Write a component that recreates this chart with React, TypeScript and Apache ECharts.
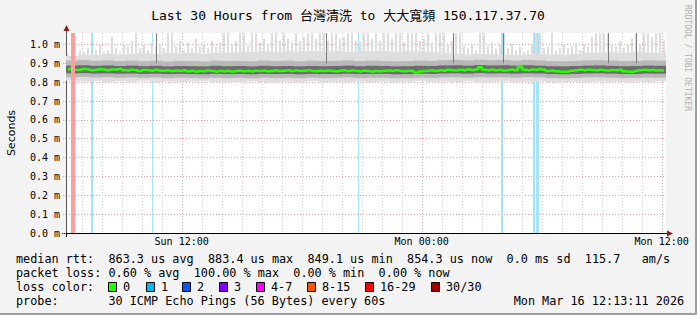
import React, { useEffect, useRef } from "react";
import * as echarts from "echarts";

const W = 697;
const H = 315;
const MONO = "'DejaVu Sans Mono', 'Noto Sans CJK TC', monospace";
const SANS = "'DejaVu Sans', sans-serif";

// time axis in hours since Sun 00:00
const START_H = 6 + 13 / 60;
const SPAN_H = 30;
const END_H = START_H + SPAN_H;
const Y_MAX = 1.061; // ms
const Y_TOP_LABEL = 1.0;

const titleText = "Last 30 Hours from 台灣清洗 to 大大寬頻 150.117.37.70";
const yAxisTitle = "Seconds";
const watermark = "RRDTOOL / TOBI OETIKER";

const xLabelHours = [12, 24, 36];
const xLabelTexts = ["Sun 12:00", "Mon 00:00", "Mon 12:00"];
const gridHours = [7, 8, 9, 10, 11, 12, 13, 14, 15, 16, 17, 18, 19, 20, 21, 22, 23, 24, 25, 26, 27, 28, 29, 30, 31, 32, 33, 34, 35, 36];
const majorGridHours = [12, 24, 36];

// median rtt (ms), 150 samples of 12 minutes
const MED_STEP = 0.2;
const medianRtt = [
  0.868, 0.872, 0.865, 0.866, 0.870, 0.868, 0.864, 0.866, 0.869, 0.867, 0.863, 0.868, 0.866, 0.870, 0.864,
  0.862, 0.866, 0.864, 0.860, 0.865, 0.863, 0.861, 0.866, 0.862, 0.860, 0.864, 0.859, 0.862, 0.860, 0.863,
  0.858, 0.861, 0.857, 0.860, 0.858, 0.862, 0.859, 0.856, 0.860, 0.858, 0.861, 0.857, 0.859, 0.862, 0.858,
  0.860, 0.857, 0.861, 0.859, 0.862, 0.858, 0.860, 0.863, 0.859, 0.861, 0.864, 0.860, 0.862, 0.859, 0.861,
  0.863, 0.860, 0.858, 0.861, 0.859, 0.862, 0.860, 0.858, 0.861, 0.863, 0.859, 0.862, 0.860, 0.857, 0.861,
  0.859, 0.856, 0.860, 0.858, 0.861, 0.862, 0.859, 0.863, 0.860, 0.858, 0.861, 0.859, 0.852, 0.857, 0.860,
  0.861, 0.864, 0.860, 0.863, 0.861, 0.866, 0.864, 0.862, 0.866, 0.863, 0.867, 0.864, 0.868, 0.879, 0.866,
  0.864, 0.867, 0.863, 0.866, 0.862, 0.865, 0.868, 0.864, 0.882, 0.866, 0.864, 0.867, 0.865, 0.870, 0.866,
  0.860, 0.862, 0.858, 0.856, 0.855, 0.857, 0.861, 0.863, 0.866, 0.864, 0.867, 0.865, 0.863, 0.866, 0.864,
  0.862, 0.865, 0.863, 0.866, 0.858, 0.856, 0.855, 0.860, 0.864, 0.866, 0.863, 0.865, 0.862, 0.864, 0.861,
];

// highest ping per 12-minute column (ms)
const TOP_STEP = 0.2;
const smokeTop = [
  0.95, 0.96, 0.94, 0.97, 0.96, 0.98, 0.95, 0.97, 1.00, 0.96,
  0.97, 1.04, 0.98, 0.96, 1.00, 0.99, 1.02, 1.06, 0.98, 1.00,
  0.97, 1.01, 0.99, 1.00, 0.98, 1.06, 1.06, 0.99, 1.02, 0.97,
  1.01, 0.98, 1.03, 0.99, 1.00, 0.98, 1.02, 0.99, 1.01, 1.06,
  1.06, 1.00, 1.02, 1.06, 1.06, 0.99, 1.06, 1.06, 1.01, 1.03,
  1.00, 1.06, 1.06, 1.02, 1.06, 1.03, 1.01, 1.06, 1.02, 1.04,
  1.06, 1.06, 1.03, 1.06, 1.06, 1.02, 1.06, 1.06, 1.03, 1.04,
  1.06, 1.06, 1.02, 1.01, 1.06, 1.06, 1.03, 1.06, 1.02, 1.06,
  1.06, 1.03, 1.06, 1.06, 1.01, 1.06, 1.06, 1.06, 1.02, 1.03,
  1.06, 1.01, 1.06, 1.06, 1.06, 1.00, 1.02, 1.06, 1.06, 0.99,
  0.98, 1.00, 0.97, 1.06, 1.06, 0.99, 1.01, 0.98, 1.00, 1.06,
  0.98, 1.00, 0.97, 0.99, 0.96, 0.97, 1.00, 1.06, 1.06, 0.98,
  0.99, 1.06, 0.97, 0.98, 1.00, 0.98, 0.99, 1.01, 0.97, 1.00,
  0.99, 1.04, 1.06, 1.06, 1.06, 1.06, 1.00, 0.99, 1.02, 0.98,
  1.00, 1.03, 1.06, 1.00, 1.06, 1.06, 1.04, 1.06, 1.06, 1.02,
];

// smoke percentiles per 36-minute column (ms)
const CORE_STEP = 0.6;
const smokeBottom = [
  0.808, 0.803, 0.806, 0.800, 0.805, 0.802, 0.807, 0.801, 0.804, 0.799,
  0.803, 0.806, 0.800, 0.802, 0.798, 0.804, 0.801, 0.799, 0.803, 0.800,
  0.805, 0.798, 0.802, 0.800, 0.804, 0.801, 0.803, 0.799, 0.802, 0.806,
  0.800, 0.803, 0.801, 0.805, 0.799, 0.802, 0.804, 0.800, 0.803, 0.806,
  0.801, 0.799, 0.803, 0.800, 0.804, 0.802, 0.799, 0.803, 0.801, 0.805,
];
const smokeP10 = [
  0.826, 0.828, 0.825, 0.827, 0.824, 0.826, 0.823, 0.825, 0.822, 0.824,
  0.823, 0.821, 0.824, 0.822, 0.823, 0.821, 0.824, 0.822, 0.823, 0.821,
  0.824, 0.822, 0.823, 0.825, 0.822, 0.824, 0.823, 0.821, 0.822, 0.824,
  0.823, 0.825, 0.826, 0.824, 0.827, 0.825, 0.826, 0.824, 0.827, 0.825,
  0.822, 0.821, 0.823, 0.825, 0.826, 0.824, 0.822, 0.823, 0.825, 0.824,
];
const smokeP25 = [
  0.847, 0.848, 0.846, 0.847, 0.845, 0.846, 0.844, 0.845, 0.843, 0.844,
  0.843, 0.842, 0.844, 0.843, 0.843, 0.842, 0.844, 0.843, 0.844, 0.842,
  0.844, 0.843, 0.843, 0.845, 0.843, 0.844, 0.844, 0.842, 0.843, 0.845,
  0.844, 0.846, 0.847, 0.845, 0.848, 0.846, 0.847, 0.845, 0.847, 0.846,
  0.843, 0.842, 0.844, 0.846, 0.847, 0.845, 0.843, 0.844, 0.846, 0.845,
];
const smokeP75 = [
  0.888, 0.890, 0.887, 0.889, 0.886, 0.888, 0.885, 0.887, 0.884, 0.886,
  0.885, 0.884, 0.887, 0.885, 0.886, 0.884, 0.887, 0.885, 0.886, 0.884,
  0.886, 0.885, 0.886, 0.888, 0.885, 0.887, 0.886, 0.884, 0.885, 0.887,
  0.886, 0.889, 0.890, 0.888, 0.891, 0.889, 0.890, 0.888, 0.890, 0.888,
  0.885, 0.884, 0.886, 0.888, 0.889, 0.887, 0.885, 0.886, 0.888, 0.887,
];
const smokeP90 = [
  0.915, 0.918, 0.913, 0.916, 0.912, 0.915, 0.911, 0.914, 0.910, 0.913,
  0.912, 0.910, 0.914, 0.912, 0.913, 0.911, 0.915, 0.912, 0.914, 0.911,
  0.914, 0.912, 0.913, 0.916, 0.912, 0.915, 0.913, 0.911, 0.912, 0.915,
  0.913, 0.917, 0.918, 0.916, 0.919, 0.917, 0.918, 0.915, 0.918, 0.916,
  0.912, 0.911, 0.913, 0.916, 0.917, 0.915, 0.912, 0.913, 0.916, 0.915,
];
const smokeP95 = [
  0.940, 0.946, 0.944, 0.950, 0.948, 0.952, 0.955, 0.950, 0.958, 0.954,
  0.956, 0.952, 0.958, 0.955, 0.960, 0.962, 0.965, 0.960, 0.966, 0.963,
  0.968, 0.964, 0.966, 0.962, 0.967, 0.965, 0.968, 0.963, 0.966, 0.964,
  0.960, 0.955, 0.950, 0.948, 0.952, 0.950, 0.946, 0.944, 0.948, 0.952,
  0.948, 0.945, 0.950, 0.955, 0.958, 0.960, 0.956, 0.962, 0.958, 0.955,
];

// single dark outliers (hours, top ms)
const darkSpikeHours = [10.72, 19.22, 25.57, 28.07, 33.32, 34.72];
const darkSpikeTop = [1.06, 1.06, 1.06, 1.06, 1.06, 1.06];

// packet loss events (start hour, end hour, lost pings of 30)
const lossStart = [6.467, 7.467, 10.517, 20.8, 27.967, 29.58, 29.73];
const lossEnd = [6.667, 7.567, 10.567, 20.88, 28.05, 29.68, 29.87];
const lossCount = [30, 1, 1, 1, 1, 1, 1];

const lossLegendLabels = ["0", "1", "2", "3", "4-7", "8-15", "16-29", "30/30"];
const lossLegendColors = ["#26ff00", "#00b8ff", "#0059ff", "#7e00ff", "#ff00ff", "#ff5500", "#ff0000", "#a00000"];
const lossLegendBoxX = [108, 146, 182, 219, 256, 307, 365, 431];

const statLine1: [number, string][] = [
  [0, "median rtt:"], [13, "863.3 us avg"], [27, "883.4 us max"], [41, "849.1 us min"],
  [55, "854.3 us now"], [69, "0.0 ms sd"], [80, "115.7"], [88, "am/s"],
];
const statLine2: [number, string][] = [
  [0, "packet loss:"], [13, "0.60 % avg"], [25, "100.00 % max"], [39, "0.00 % min"], [51, "0.00 % now"],
];
const statLine3: [number, string][] = [[0, "loss color:"]];
const statLine4: [number, string][] = [
  [0, "probe:"], [13, "30 ICMP Echo Pings (56 Bytes) every 60s"], [70, "Mon Mar 16 12:13:11 2026"],
];

const CH = 7.11;
const TX0 = 16;

function lossBandColor(n: number) {
  if (n >= 16) return "#ff9c9c";
  return "#a3e4fa";
}

function bandRenderer(fill: string) {
  return (_p: any, api: any) => {
    const a = api.coord([api.value(0), api.value(3)]);
    const b = api.coord([api.value(1), api.value(2)]);
    const x0 = Math.round(a[0]);
    const x1 = Math.round(b[0]);
    if (b[1] - a[1] <= 0) return null;
    return {
      type: "rect",
      shape: { x: x0, y: a[1], width: Math.max(1, x1 - x0), height: b[1] - a[1] },
      style: { fill },
    };
  };
}

function spikeRenderer(fill: string) {
  return (_p: any, api: any) => {
    const a = api.coord([api.value(0), api.value(3)]);
    const b = api.coord([api.value(1), api.value(2)]);
    if (b[1] - a[1] <= 0) return null;
    const x0 = Math.round(a[0]) + 1;
    return {
      type: "rect",
      shape: { x: x0, y: a[1], width: 2, height: b[1] - a[1] },
      style: { fill },
    };
  };
}

function buildOption() {
  const coreIdx = (k: number) => Math.floor((k * TOP_STEP) / CORE_STEP + 1e-9);
  const lightData = smokeBottom.map((lo, k) => [START_H + k * CORE_STEP, START_H + (k + 1) * CORE_STEP, lo, smokeP95[k]]);
  const spikeColData = smokeTop.map((hi, k) => [
    START_H + k * TOP_STEP,
    START_H + (k + 1) * TOP_STEP,
    smokeP95[coreIdx(k)],
    hi,
  ]);
  const midData = smokeP10.map((lo, k) => [START_H + k * CORE_STEP, START_H + (k + 1) * CORE_STEP, lo, smokeP90[k]]);
  const darkData = smokeP25.map((lo, k) => [START_H + k * CORE_STEP, START_H + (k + 1) * CORE_STEP, lo, smokeP75[k]]);
  const medData = medianRtt.map((v, i) => [START_H + (i + 0.5) * MED_STEP, v]);
  const lossData = lossStart.map((s, i) => [s, lossEnd[i], lossCount[i]]);
  const spikeData = darkSpikeHours.map((t, i) => [t, darkSpikeTop[i]]);

  const lossRender = (full: boolean) => (_p: any, api: any) => {
    const n = api.value(2);
    if ((n >= 30) !== full) return null;
    const a = api.coord([api.value(0), Y_MAX]);
    const b = api.coord([api.value(1), 0]);
    const x0 = Math.round(a[0]);
    const x1 = Math.round(b[0]);
    return {
      type: "rect",
      shape: { x: x0, y: a[1], width: Math.max(1, x1 - x0), height: b[1] - a[1] },
      style: { fill: lossBandColor(n) },
    };
  };

  const graphics: any[] = [];
  graphics.push({ type: "rect", shape: { x: 0, y: H - 2, width: W, height: 2 }, style: { fill: "#9e9e9e" }, silent: true });
  graphics.push({ type: "rect", shape: { x: W - 2, y: 0, width: 2, height: H }, style: { fill: "#9e9e9e" }, silent: true });
  graphics.push({
    type: "text", x: 348, y: 15,
    style: { text: titleText, font: `13px ${MONO}`, fill: "#000", textAlign: "center", textVerticalAlign: "middle" },
  });
  graphics.push({
    type: "text", x: 11, y: 133, rotation: Math.PI / 2,
    style: { text: yAxisTitle, font: `11px ${SANS}`, fill: "#000", textAlign: "center", textVerticalAlign: "middle" },
  });
  graphics.push({
    type: "text", x: 687, y: 5, rotation: -Math.PI / 2,
    style: { text: watermark, font: `8px ${MONO}`, fill: "#b0b0b0", textAlign: "left", textVerticalAlign: "middle" },
  });
  graphics.push({ type: "line", shape: { x1: 66.5, y1: 30, x2: 66.5, y2: 33 }, style: { stroke: "#555", lineWidth: 1 } });
  graphics.push({ type: "line", shape: { x1: 66.5, y1: 233, x2: 66.5, y2: 237 }, style: { stroke: "#000", lineWidth: 1 } });
  graphics.push({ type: "line", shape: { x1: 62, y1: 233.5, x2: 667, y2: 233.5 }, style: { stroke: "#000", lineWidth: 1 } });
  graphics.push({ type: "polygon", shape: { points: [[63.5, 31], [66.5, 25], [69.5, 31]] }, style: { fill: "#7f1f1f" } });
  graphics.push({ type: "polygon", shape: { points: [[667, 230.5], [673, 233.5], [667, 236.5]] }, style: { fill: "#7f1f1f" } });

  const lines: [number, [number, string][]][] = [[259, statLine1], [273, statLine2], [287, statLine3], [301, statLine4]];
  lines.forEach(([y, segs]) => {
    segs.forEach(([col, txt]) => {
      graphics.push({
        type: "text", x: TX0 + col * CH, y,
        style: { text: txt, font: `11.8px ${MONO}`, fill: "#000", textAlign: "left", textVerticalAlign: "middle" },
      });
    });
  });
  lossLegendLabels.forEach((lab, i) => {
    const bx = lossLegendBoxX[i];
    graphics.push({
      type: "rect", shape: { x: bx + 0.5, y: 282.5, width: 8, height: 9 },
      style: { fill: lossLegendColors[i], stroke: "#000", lineWidth: 1 },
    });
    graphics.push({
      type: "text", x: bx + 15, y: 287,
      style: { text: lab, font: `11.8px ${MONO}`, fill: "#000", textAlign: "left", textVerticalAlign: "middle" },
    });
  });

  return {
    animation: false,
    backgroundColor: "#f3f3f3",
    grid: { left: 66, top: 33, width: 600, height: 200, show: true, backgroundColor: "#ffffff", borderWidth: 0 },
    xAxis: {
      type: "value",
      min: START_H,
      max: END_H,
      axisLine: { show: true, lineStyle: { color: "#000", width: 1 } },
      axisTick: { show: false },
      splitLine: { show: false },
      axisLabel: {
        customValues: xLabelHours,
        formatter: (v: number) => {
          const i = xLabelHours.findIndex((h) => Math.abs(h - v) < 1e-6);
          return i >= 0 ? xLabelTexts[i] : "";
        },
        fontFamily: MONO,
        fontSize: 10,
        color: "#000",
        margin: 3,
      },
    },
    yAxis: {
      type: "value",
      min: 0,
      max: Y_MAX,
      interval: 0.1,
      axisLine: { show: true, lineStyle: { color: "#555", width: 1 } },
      axisTick: { show: true, length: 4, lineStyle: { color: "#e3a0a0", type: [1, 1] } },
      axisLabel: {
        fontFamily: MONO,
        fontSize: 10,
        color: "#000",
        margin: 6,
        showMaxLabel: false,
        formatter: (v: number) => (v > Y_TOP_LABEL + 1e-6 ? "" : `${v.toFixed(1)} m`),
      },
      splitLine: { show: true, showMaxLine: false, showMinLine: false, lineStyle: { color: "#e3a0a0", type: [1, 2], width: 1 } },
    },
    series: [
      {
        type: "custom",
        z: 1,
        silent: true,
        data: gridHours.map((h) => [h]),
        encode: { x: 0 },
        renderItem: (_p: any, api: any) => {
          const h = api.value(0);
          const a = api.coord([h, Y_MAX]);
          const b = api.coord([h, 0]);
          const x = Math.round(a[0]) + 0.5;
          const major = majorGridHours.indexOf(h) >= 0;
          return {
            type: "line",
            shape: { x1: x, y1: a[1], x2: x, y2: b[1] },
            style: { stroke: major ? "#e3a0a0" : "#d0d0d0", lineWidth: 1, lineDash: [1, 2] },
          };
        },
      },
      { type: "custom", z: 2, silent: true, data: lossData, encode: { x: [0, 1] }, renderItem: lossRender(false) },
      { type: "custom", z: 3, silent: true, data: spikeColData, encode: { x: [0, 1], y: [2, 3] }, renderItem: spikeRenderer("#dcdcdc") },
      { type: "custom", z: 3, silent: true, data: lightData, encode: { x: [0, 1], y: [2, 3] }, renderItem: bandRenderer("#dedede") },
      { type: "custom", z: 4, silent: true, data: midData, encode: { x: [0, 1], y: [2, 3] }, renderItem: bandRenderer("#b8b8b8") },
      { type: "custom", z: 5, silent: true, data: darkData, encode: { x: [0, 1], y: [2, 3] }, renderItem: bandRenderer("#6c6c6c") },
      {
        type: "custom",
        z: 6,
        silent: true,
        data: spikeData,
        encode: { x: 0, y: 1 },
        renderItem: (_p: any, api: any) => {
          const a = api.coord([api.value(0), api.value(1)]);
          const b = api.coord([api.value(0), 0.9]);
          return {
            type: "rect",
            shape: { x: Math.round(a[0]), y: a[1], width: 1, height: b[1] - a[1] },
            style: { fill: "#7a7a7a" },
          };
        },
      },
      {
        type: "line",
        z: 7,
        silent: true,
        data: medData,
        step: "middle",
        showSymbol: false,
        symbol: "none",
        lineStyle: { color: "#26ff00", width: 2.5 },
      },
      { type: "custom", z: 8, silent: true, data: lossData, encode: { x: [0, 1] }, renderItem: lossRender(true) },
    ],
    graphic: { elements: graphics },
  };
}

export default function App() {
  const ref = useRef<HTMLDivElement>(null);
  useEffect(() => {
    const el = ref.current;
    if (!el) return;
    const chart = echarts.init(el, null, { renderer: "svg", width: W, height: H });
    chart.setOption(buildOption() as any);
    return () => chart.dispose();
  }, []);
  return <div ref={ref} style={{ position: "absolute", left: 0, top: 0, width: W, height: H }} />;
}
